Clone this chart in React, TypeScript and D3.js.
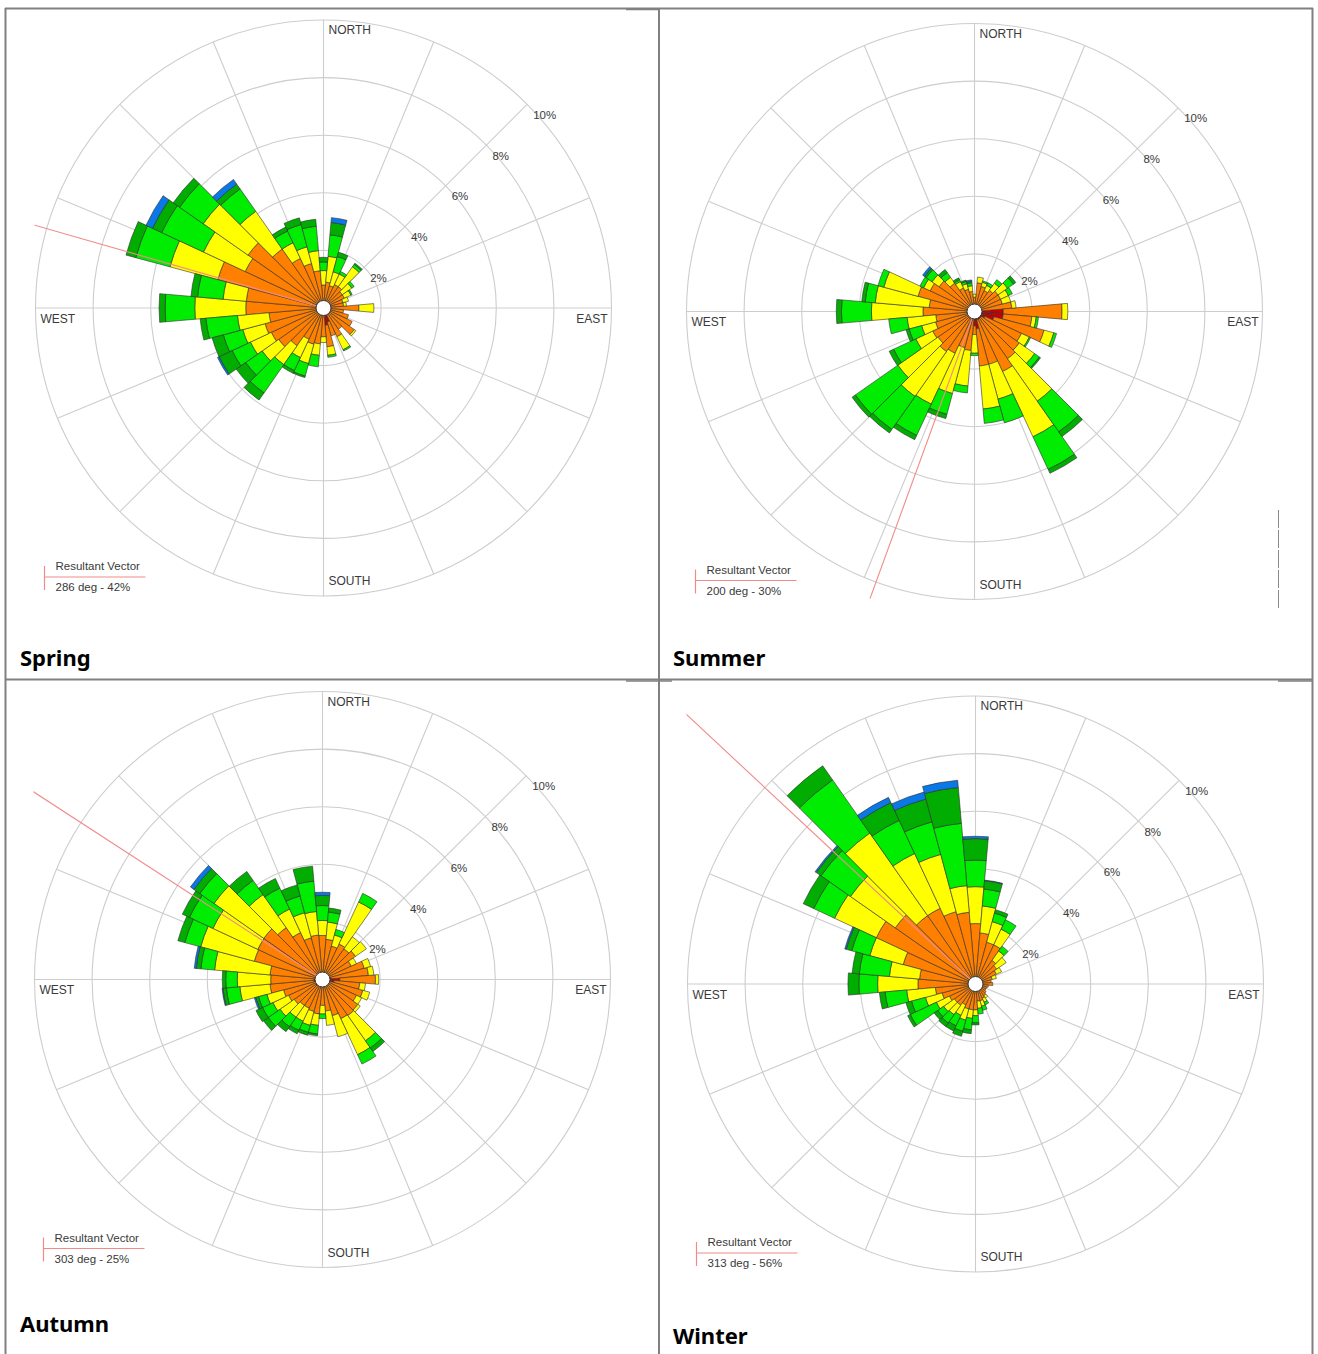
import React from 'react';
import * as d3 from 'd3';

// ---------- categories ----------
const DIRECTIONS = [0, 10, 20, 30, 40, 50, 60, 70, 80, 90, 100, 110, 120, 130, 140, 150, 160, 170,
  180, 190, 200, 210, 220, 230, 240, 250, 260, 270, 280, 290, 300, 310, 320, 330, 340, 350];
const CLASS_KEYS = ['c1', 'c2', 'c3', 'c4', 'c5', 'c6'];
const CLASS_COLORS = ['#c80000', '#ff8000', '#ffff00', '#00ec00', '#00ad00', '#0a78e6'];
const RING_VALUES = [2, 4, 6, 8, 10];
const RING_LABELS = ['2%', '4%', '6%', '8%', '10%'];
const SEASON_NAMES = ['Spring', 'Summer', 'Autumn', 'Winter'];
const RESULTANT_DEG = [286, 200, 303, 313];
const RESULTANT_PCT = [42, 30, 25, 56];

// ---------- series values (% frequency per speed class, per 10° sector) ----------
const spring1 = [0.1,0.1,0.1,0.1,0.1,0.1,0.1,0.1,0.1,0.2,0.1,0.1,0.1,0.1,0.1,0.2,0.5,0.6,0.1,0.2,0.1,0.1,0.1,0.1,0.1,0.1,0.1,0.15,0.1,0.1,0.1,0.1,0.1,0.1,0.1,0.1];
const spring2 = [0.7,0.8,0.7,0.8,0.8,0.7,0.7,0.6,0.6,1.03,0.6,0.8,1.0,1.2,0.8,0.9,0.5,0.75,0.9,1.05,1.2,1.1,1.5,1.8,1.9,2.0,1.8,2.55,2.59,3.7,2.9,3.1,2.4,1.8,1.5,1.2];
const spring3 = [0.5,0.9,0.5,0.4,0.85,0.4,0.25,0.2,0.1,0.52,0,0,0,0.07,0,0.5,0,0.3,0.2,0.4,0.7,0.7,0.8,0.7,0.8,0.8,1.1,1.77,0.81,1.72,1.6,1.9,1.6,0.6,0.6,0.7];
const spring4 = [0.3,0.75,0.55,0.1,0.1,0.1,0.05,0,0,0,0,0,0,0,0,0.05,0,0.07,0,0.4,0.45,0.5,1.2,0.7,0.7,0.7,1.1,1.03,0.89,1.23,1.6,1.0,0.95,0.45,0.8,0.85];
const spring5 = [0.16,0.43,0.15,0,0.05,0,0,0,0,0,0,0,0,0,0,0,0,0,0,0,0.05,0.1,0.3,0.4,0.5,0.4,0.2,0.21,0.23,0.35,0.35,0.27,0.2,0.15,0.24,0.24];
const spring6 = [0,0.17,0,0,0,0,0,0,0,0,0,0,0,0,0,0,0,0,0,0,0,0,0,0,0.06,0,0,0,0,0,0.25,0,0.2,0,0,0];

const summer1 = [0.1,0.1,0.1,0.1,0.1,0.1,0.1,0.1,0.2,1.0,1.0,0.7,0.4,0.3,0.3,0.3,0.3,0.6,0.5,0.2,0.2,0.1,0.1,0.1,0.1,0.1,0.1,0.1,0.1,0.1,0.1,0.1,0.1,0.1,0.1,0.1];
const summer2 = [0.4,0.9,0.8,0.7,0.8,0.9,0.9,0.9,1.1,2.04,1.0,1.8,1.4,1.6,1.7,2.0,1.6,1.3,0.3,1.16,1.1,1.5,1.6,1.45,1.5,1.3,1.25,1.69,1.48,1.93,1.6,1.4,1.1,0.8,0.7,0.6];
const summer3 = [0.1,0.2,0.15,0.2,0.3,0.4,0.3,0.3,0.15,0.2,0.15,0.35,0.3,0.65,1.8,2.5,1.25,1.5,0.65,1.24,1.65,1.95,1.9,1.7,0.65,0.5,1.0,1.79,1.88,1.23,0.25,0.3,0.25,0.25,0.2,0.2];
const summer4 = [0,0,0.05,0.1,0.15,0.25,0.15,0,0,0,0.08,0.1,0.05,0.2,1.3,1.25,0.85,0.5,0.08,0.24,0.75,1.2,1.4,1.8,0.85,0.45,0.64,1.04,0.35,0.21,0.14,0.25,0.2,0.07,0.08,0.1];
const summer5 = [0,0,0,0,0,0.1,0,0,0,0,0,0,0,0.05,0.2,0.15,0,0,0,0,0.15,0.16,0.15,0.14,0.17,0.11,0,0.18,0.12,0,0,0.07,0.13,0.07,0.05,0.05];
const summer6 = [0,0,0,0,0,0,0,0,0,0,0,0,0,0,0,0,0,0,0,0,0,0,0,0,0,0,0,0,0,0,0,0.08,0,0,0,0.05];

const autumn1 = [0.1,0.1,0.1,0.1,0.1,0.1,0.1,0.1,0.3,0.6,0.4,0.2,0.1,0.1,0.1,0.1,0.1,0.1,0.1,0.1,0.1,0.1,0.1,0.3,0.1,0.1,0.3,0.3,0.1,0.1,0.1,0.1,0.1,0.1,0.1,0.1];
const autumn2 = [1.43,1.3,1.1,1.26,1.2,1.3,1.0,1.4,1.3,1.24,0.9,1.25,1.2,1.4,1.43,1.4,1.2,1.0,0.8,1.1,1.05,1.0,1.0,0.9,1.2,1.3,1.53,1.5,1.73,2.35,2.38,2.39,2.1,1.7,1.4,1.45];
const autumn3 = [0.52,0.6,0.4,1.61,0.51,0.46,0.2,0.23,0.19,0.11,0.2,0.25,0.2,0.1,1.07,1.38,0.76,0.5,0.3,0.4,0.5,0.5,0.5,0.6,0.6,0.6,1.05,1.16,1.93,1.93,1.72,2.11,1.4,0.9,0.9,0.82];
const autumn4 = [0.52,0.35,0.2,0.33,0,0,0,0,0,0,0,0,0,0,0.3,0.36,0,0,0.16,0.3,0.25,0.35,0.4,0.5,0.4,0.3,0.47,0.4,0.48,0.57,0.9,0.6,0.6,0.8,0.6,1.06];
const autumn5 = [0.35,0.14,0,0,0,0,0,0,0,0,0,0,0,0,0.15,0,0,0,0,0.06,0.1,0.13,0.21,0.2,0.25,0.1,0.12,0.12,0.16,0.25,0.27,0.25,0.38,0.37,0.4,0.52];
const autumn6 = [0.11,0,0,0,0,0,0,0,0,0,0,0,0,0,0,0,0,0,0,0,0,0,0,0,0,0.05,0.03,0,0.07,0,0,0.15,0,0,0,0];

const winter1 = [0.1,0.1,0.1,0.1,0.1,0.1,0.1,0.1,0.1,0.15,0.1,0.1,0.1,0.1,0.1,0.1,0.1,0.1,0.15,0.15,0.15,0.15,0.1,0.1,0.1,0.1,0.1,0.15,0.1,0.1,0.1,0.1,0.1,0.1,0.1,0.1];
const winter2 = [2.0,1.68,1.4,1.4,0.9,0.8,0.7,0.5,0.45,0.45,0.35,0.3,0.3,0.35,0.4,0.45,0.5,0.5,0.75,0.75,0.75,0.65,0.8,0.8,0.9,1.1,1.3,1.85,1.85,2.5,3.7,3.3,2.8,2.8,2.5,2.4];
const winter3 = [1.28,0.94,0.74,0.6,0.4,0.4,0.2,0.15,0,0,0,0,0,0,0.1,0.15,0.2,0.25,0.2,0.3,0.4,0.4,0.4,0.45,0.5,0.6,1.0,1.4,1.05,1.2,1.6,1.9,3.5,2.1,2.06,0.93];
const winter4 = [0.92,0.59,0.31,0.36,0.2,0,0,0,0,0,0,0,0,0,0,0.1,0.15,0.2,0.25,0.4,0.4,0.4,0.35,0.25,1.0,0.5,0.75,0.65,1.05,0.65,0.8,1.25,2.25,1.27,1.17,2.17];
const winter5 = [0.75,0.29,0.12,0,0,0,0,0,0,0,0,0,0,0,0,0,0,0,0.07,0.13,0.18,0.2,0.15,0.15,0.1,0.2,0.2,0.38,0.25,0.2,0.4,0.2,0.6,0.68,0.82,1.25];
const winter6 = [0.08,0.02,0,0,0,0,0,0,0,0,0,0,0,0,0,0,0,0,0,0,0,0,0,0,0,0,0,0,0,0.05,0,0.05,0,0.2,0.25,0.25];

const SEASON_SERIES = [
  [spring1, spring2, spring3, spring4, spring5, spring6],
  [summer1, summer2, summer3, summer4, summer5, summer6],
  [autumn1, autumn2, autumn3, autumn4, autumn5, autumn6],
  [winter1, winter2, winter3, winter4, winter5, winter6],
];

// ---------- layout ----------
const PANEL_LAYOUT = [
  { cx: 323.5, cy: 308, tx: 20, ty: 666 },
  { cx: 974.5, cy: 311.5, tx: 673, ty: 666 },
  { cx: 322.5, cy: 979.5, tx: 20, ty: 1332 },
  { cx: 975.5, cy: 984, tx: 673, ty: 1344 },
];
const R_OUT = 288;
const LABEL_FONT = '"Liberation Sans", Arial, sans-serif';
const VEC_COLOR = '#f28a8a';
const GRID_COLOR = '#cdcdcd';
const TABLE_COLOR = '#808080';

const rad = (deg: number) => (deg * Math.PI) / 180;

function Rose({ idx }: { idx: number }) {
  const { cx, cy } = PANEL_LAYOUT[idx];
  const series = SEASON_SERIES[idx];
  const r = d3.scaleLinear().domain([0, 10]).range([0, R_OUT]);
  const rows = DIRECTIONS.map((d, i) => {
    const o: any = { dir: d };
    CLASS_KEYS.forEach((k, j) => (o[k] = series[j][i]));
    return o;
  });
  const stacked = d3.stack<any>().keys(CLASS_KEYS)(rows);
  const arc = d3.arc<any>();
  const spokes = d3.range(16).map((i) => i * 22.5);
  const vd = RESULTANT_DEG[idx];
  const L = 900;
  const clipId = `clip-${idx}`;

  return (
    <g>
      <defs>
        <clipPath id={clipId}>
          <rect x={cx - 289} y={cy - 300} width={600} height={587} />
        </clipPath>
      </defs>
      {/* grid rings */}
      {RING_VALUES.map((v) => (
        <circle key={v} cx={cx} cy={cy} r={r(v)} fill="none" stroke={GRID_COLOR} strokeWidth={1.1} />
      ))}
      {spokes.map((a) => (
        <line key={a} x1={cx} y1={cy} x2={cx + R_OUT * Math.sin(rad(a))} y2={cy - R_OUT * Math.cos(rad(a))}
          stroke={GRID_COLOR} strokeWidth={1.1} />
      ))}
      {/* bars */}
      <g transform={`translate(${cx},${cy})`}>
        {stacked.map((layer, j) =>
          layer.map((seg: any, i: number) => {
            if (seg[1] - seg[0] <= 0) return null;
            const dir = DIRECTIONS[i];
            const path = arc({
              innerRadius: r(seg[0]),
              outerRadius: r(seg[1]),
              startAngle: rad(dir - 5),
              endAngle: rad(dir + 5),
            });
            return <path key={`${j}-${i}`} d={path || ''} fill={CLASS_COLORS[j]} stroke="#2e2e2e" strokeWidth={0.6} />;
          })
        )}
      </g>
      {/* resultant vector */}
      <line x1={cx} y1={cy} x2={cx + L * Math.sin(rad(vd))} y2={cy - L * Math.cos(rad(vd))}
        stroke={VEC_COLOR} strokeWidth={1.1} clipPath={`url(#${clipId})`} />
      {/* calm circle */}
      <circle cx={cx} cy={cy} r={7.5} fill="#fff" stroke="#333" strokeWidth={1} />
      {/* ring labels */}
      {RING_VALUES.map((v, i) => (
        <text key={v} x={cx + r(v) * Math.SQRT1_2 + 6} y={cy - r(v) * Math.SQRT1_2 + 14.5}
          fontFamily={LABEL_FONT} fontSize={11.5} fill="#3a3a3a">{RING_LABELS[i]}</text>
      ))}
      {/* cardinal labels */}
      <text x={cx + 5} y={cy - 274} fontFamily={LABEL_FONT} fontSize={12} fill="#3a3a3a">NORTH</text>
      <text x={cx + 5} y={cy + 277} fontFamily={LABEL_FONT} fontSize={12} fill="#3a3a3a">SOUTH</text>
      <text x={cx - 283} y={cy + 14.5} fontFamily={LABEL_FONT} fontSize={12} fill="#3a3a3a">WEST</text>
      <text x={cx + 284} y={cy + 14.5} textAnchor="end" fontFamily={LABEL_FONT} fontSize={12} fill="#3a3a3a">EAST</text>
      {/* legend */}
      <line x1={cx - 279} y1={cy + 258} x2={cx - 279} y2={cy + 282} stroke={VEC_COLOR} strokeWidth={1.2} />
      <line x1={cx - 279} y1={cy + 269} x2={cx - 178} y2={cy + 269} stroke={VEC_COLOR} strokeWidth={1.2} />
      <text x={cx - 268} y={cy + 262} fontFamily={LABEL_FONT} fontSize={11.5} fill="#3a3a3a">Resultant Vector</text>
      <text x={cx - 268} y={cy + 283} fontFamily={LABEL_FONT} fontSize={11.5} fill="#3a3a3a">
        {`${RESULTANT_DEG[idx]} deg - ${RESULTANT_PCT[idx]}%`}
      </text>
    </g>
  );
}

export default function App() {
  return (
    <svg width={1318} height={1354} style={{ position: 'absolute', left: 0, top: 0, background: '#fff' }}>
      <rect x={0} y={0} width={1318} height={1354} fill="#fff" />
      {PANEL_LAYOUT.map((p, i) => (
        <g key={i}>
          <Rose idx={i} />
          <text x={p.tx} y={p.ty} fontFamily='"Noto Sans", "Open Sans", sans-serif' fontWeight={700} fontSize={22} fill="#000">
            {SEASON_NAMES[i]}
          </text>
        </g>
      ))}
      {/* table borders */}
      <line x1={5} y1={8.5} x2={1313} y2={8.5} stroke={TABLE_COLOR} strokeWidth={2} />
      <line x1={5.5} y1={8} x2={5.5} y2={1354} stroke={TABLE_COLOR} strokeWidth={2} />
      <line x1={659} y1={8} x2={659} y2={1354} stroke={TABLE_COLOR} strokeWidth={2} />
      <line x1={1312.5} y1={8} x2={1312.5} y2={1354} stroke={TABLE_COLOR} strokeWidth={2} />
      <line x1={5} y1={679.5} x2={1313} y2={679.5} stroke={TABLE_COLOR} strokeWidth={2} />
      <line x1={626} y1={681} x2={672} y2={681} stroke={TABLE_COLOR} strokeWidth={1.5} />
      <line x1={1278} y1={681} x2={1312} y2={681} stroke={TABLE_COLOR} strokeWidth={1.5} />
      <line x1={626} y1={9.5} x2={658} y2={9.5} stroke={TABLE_COLOR} strokeWidth={1.5} />
      {/* stray dashed edge in summer panel */}
      <line x1={1278.5} y1={510} x2={1278.5} y2={610} stroke="#8a8a8a" strokeWidth={1} strokeDasharray="18 2" />
    </svg>
  );
}
